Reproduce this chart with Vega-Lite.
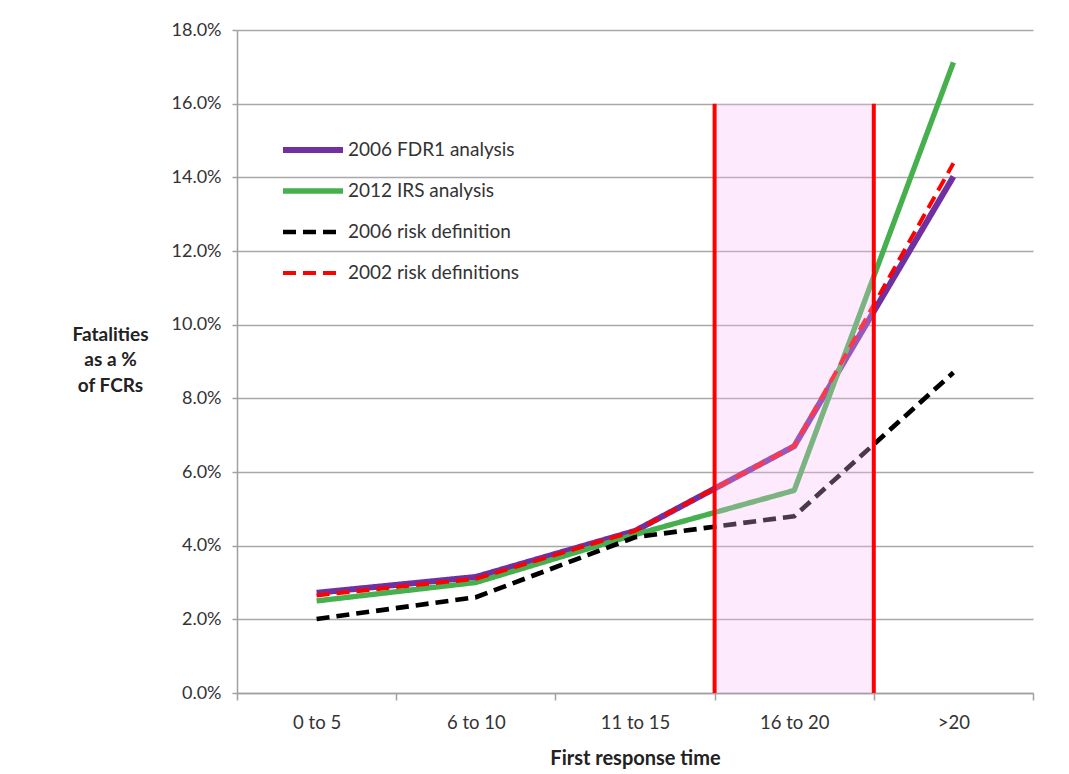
{
  "$schema": "https://vega.github.io/schema/vega-lite/v6.json",
  "width": 796,
  "height": 663,
  "autosize": {"type": "none"},
  "padding": {"left": 237, "top": 30, "right": 36, "bottom": 81},
  "background": "white",
  "config": {"font": "Lato", "view": {"stroke": null}},
  "datasets": {
    "series": [
      {"time": "0 to 5", "series": "2006 FDR1 analysis", "rate": 0.0272},
      {"time": "6 to 10", "series": "2006 FDR1 analysis", "rate": 0.0315},
      {"time": "11 to 15", "series": "2006 FDR1 analysis", "rate": 0.044},
      {"time": "16 to 20", "series": "2006 FDR1 analysis", "rate": 0.067},
      {"time": ">20", "series": "2006 FDR1 analysis", "rate": 0.1402},
      {"time": "0 to 5", "series": "2012 IRS analysis", "rate": 0.025},
      {"time": "6 to 10", "series": "2012 IRS analysis", "rate": 0.03},
      {"time": "11 to 15", "series": "2012 IRS analysis", "rate": 0.043},
      {"time": "16 to 20", "series": "2012 IRS analysis", "rate": 0.055},
      {"time": ">20", "series": "2012 IRS analysis", "rate": 0.1712},
      {"time": "0 to 5", "series": "2006 risk definition", "rate": 0.0201},
      {"time": "6 to 10", "series": "2006 risk definition", "rate": 0.026},
      {"time": "11 to 15", "series": "2006 risk definition", "rate": 0.0423},
      {"time": "16 to 20", "series": "2006 risk definition", "rate": 0.048},
      {"time": ">20", "series": "2006 risk definition", "rate": 0.087},
      {"time": "0 to 5", "series": "2002 risk definitions", "rate": 0.0265},
      {"time": "6 to 10", "series": "2002 risk definitions", "rate": 0.031},
      {"time": "11 to 15", "series": "2002 risk definitions", "rate": 0.044},
      {"time": "16 to 20", "series": "2002 risk definitions", "rate": 0.067},
      {"time": ">20", "series": "2002 risk definitions", "rate": 0.1438}
    ],
    "band": [{"time": "16 to 20", "top": 0.16, "bottom": 0}],
    "edges": [
      {"time": "16 to 20", "top": 0.16, "bottom": 0},
      {"time": ">20", "top": 0.16, "bottom": 0}
    ]
  },
  "layer": [
    {
      "data": {"name": "series"},
      "mark": {"type": "line", "strokeCap": "butt", "strokeJoin": "round"},
      "encoding": {
        "x": {
          "field": "time",
          "type": "ordinal",
          "bandPosition": 0.5,
          "scale": {"type": "band", "domain": ["0 to 5", "6 to 10", "11 to 15", "16 to 20", ">20"], "paddingInner": 0, "paddingOuter": 0},
          "axis": {
            "title": "First response time",
            "titleFontSize": 20,
            "titleFontWeight": "bold",
            "titleColor": "#222222",
            "titlePadding": 17,
            "labelAngle": 0,
            "labelFontSize": 18.5,
            "labelColor": "#333333",
            "labelPadding": 13,
            "tickBand": "extent",
            "tickSize": 7,
            "tickColor": "#a0a0a0",
            "tickWidth": 1.5,
            "domainColor": "#a0a0a0",
            "domainWidth": 1.5,
            "grid": false
          }
        },
        "y": {
          "field": "rate",
          "type": "quantitative",
          "scale": {"domain": [0, 0.18]},
          "axis": {
            "title": ["Fatalities", "as a %", "of FCRs"],
            "titleAngle": 0,
            "titleAlign": "center",
            "titleBaseline": "top",
            "titleX": -127,
            "titleY": 295,
            "titleFontSize": 19,
            "titleFontWeight": "bold",
            "titleColor": "#222222",
            "titleLineHeight": 25.5,
            "values": [0, 0.02, 0.04, 0.06, 0.08, 0.1, 0.12, 0.14, 0.16, 0.18],
            "format": ".1%",
            "labelFontSize": 18,
            "labelColor": "#333333",
            "labelPadding": 11,
            "tickSize": 5,
            "tickColor": "#a0a0a0",
            "tickWidth": 1.5,
            "domainColor": "#a0a0a0",
            "domainWidth": 1.5,
            "grid": true,
            "gridColor": "#a8a8a8",
            "gridWidth": 1.5
          }
        },
        "color": {
          "field": "series",
          "type": "nominal",
          "scale": {
            "domain": ["2006 FDR1 analysis", "2012 IRS analysis", "2006 risk definition", "2002 risk definitions"],
            "range": ["#7030A0", "#46B04E", "#000000", "#FF0000"]
          },
          "legend": {
            "title": null,
            "orient": "none",
            "legendX": 43,
            "legendY": 110,
            "symbolType": "stroke",
            "symbolSize": 3600,
            "clipHeight": 20,
            "rowPadding": 21,
            "labelOffset": 2,
            "labelFontSize": 19,
            "labelLimit": 400,
            "labelColor": "#333333"
          }
        },
        "strokeDash": {
          "field": "series",
          "type": "nominal",
          "scale": {
            "domain": ["2006 FDR1 analysis", "2012 IRS analysis", "2006 risk definition", "2002 risk definitions"],
            "range": [[1, 0], [1, 0], [13, 7], [13, 7]]
          }
        },
        "strokeWidth": {
          "field": "series",
          "type": "nominal",
          "scale": {
            "domain": ["2006 FDR1 analysis", "2012 IRS analysis", "2006 risk definition", "2002 risk definitions"],
            "range": [6, 4, 4.5, 4.5]
          }
        }
      }
    },
    {
      "data": {"name": "band"},
      "mark": {"type": "rect", "color": "#F8B9F8", "opacity": 0.3},
      "encoding": {
        "x": {"field": "time", "type": "ordinal"},
        "y": {"field": "top", "type": "quantitative"},
        "y2": {"field": "bottom"}
      }
    },
    {
      "data": {"name": "edges"},
      "mark": {"type": "rule", "color": "#FF0000", "strokeWidth": 4},
      "encoding": {
        "x": {"field": "time", "type": "ordinal", "bandPosition": 0},
        "y": {"field": "top", "type": "quantitative"},
        "y2": {"field": "bottom"}
      }
    }
  ]
}
